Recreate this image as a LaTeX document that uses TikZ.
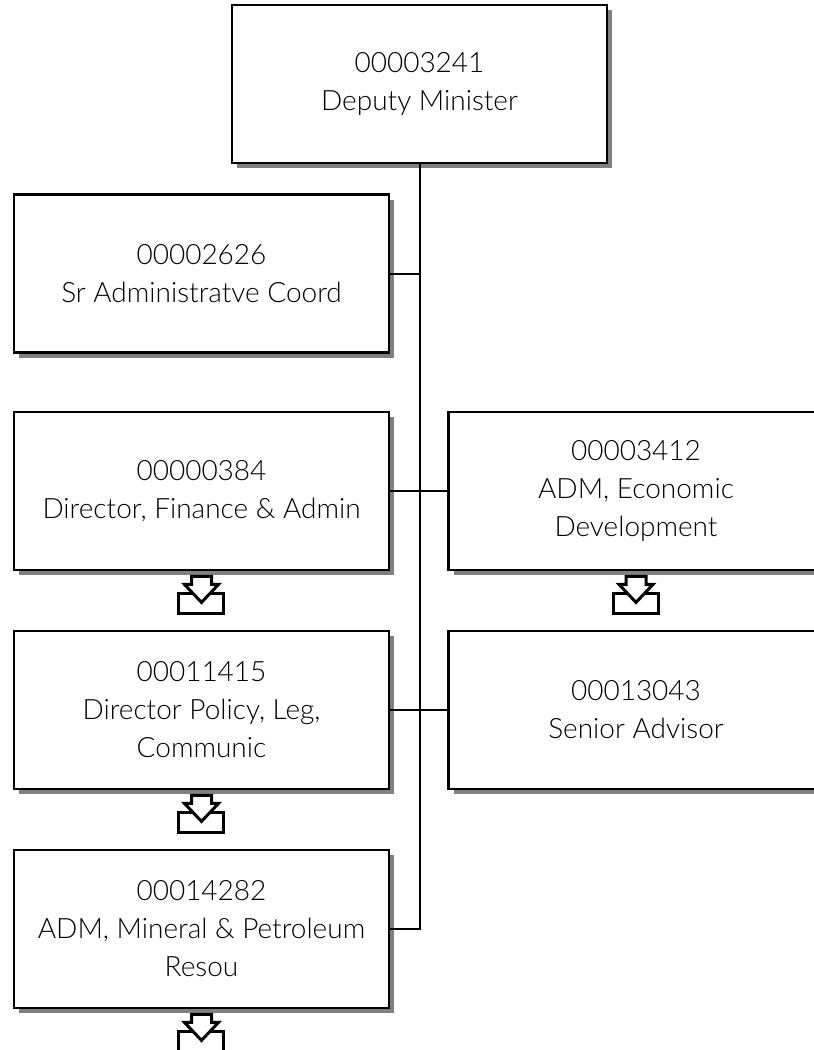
\documentclass[tikz,border=0pt]{standalone}
\usepackage{fontspec}
\setmainfont{Lato}[UprightFont=* Light]
\usetikzlibrary{shadows}
\begin{document}
\begin{tikzpicture}[x=1pt,y=-1pt,
  orgbox/.style={draw=black, line width=2.8pt, fill=white,
    minimum width=375pt, minimum height=158pt, inner sep=0pt,
    align=center, font=\fontsize{28}{38}\selectfont,
    general shadow={fill=black!50, shadow xshift=5pt, shadow yshift=-5pt}},
  link/.style={line width=2pt, draw=black},
  iconline/.style={line width=3pt, draw=black, fill=white, line join=miter},
  subicon/.pic={
    \path[iconline] (-23,22) rectangle (22,42);
    \path[iconline] (-10,5) -- (-10,13) -- (-17,13) -- (0,31) -- (17,13) -- (10,13) -- (10,5) -- cycle;
  }]
\clip (0,0) rectangle (814,1050);
\fill[white] (0,0) rectangle (814,1050);

\node[orgbox] (dm) at (419.5,84) {00003241\\Deputy Minister};
\node[orgbox] (sac) at (201.5,273.5) {00002626\\Sr Administratve Coord};
\node[orgbox] (dfa) at (201.5,491) {00000384\\Director, Finance \& Admin};
\node[orgbox] (adme) at (636,491) {00003412\\ADM, Economic\\Development};
\node[orgbox] (dpl) at (201.5,710) {00011415\\Director Policy, Leg,\\Communic};
\node[orgbox] (sa) at (636,710) {00013043\\Senior Advisor};
\node[orgbox] (admm) at (201.5,929) {00014282\\ADM, Mineral \& Petroleum\\Resou};

\draw[link] (dm.south) -- (dm.south |- admm.east) -- (admm.east);
\draw[link] (sac.east) -- (sac.east -| dm.south);
\draw[link] (dfa.east) -- (adme.west);
\draw[link] (dpl.east) -- (sa.west);

\pic at (dfa.south) {subicon};
\pic at (adme.south) {subicon};
\pic at (dpl.south) {subicon};
\pic at (admm.south) {subicon};
\end{tikzpicture}
\end{document}
